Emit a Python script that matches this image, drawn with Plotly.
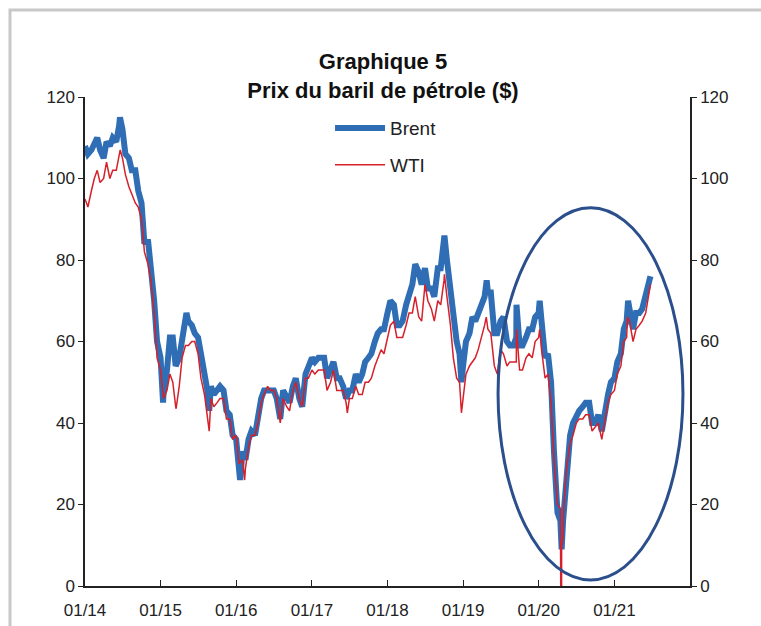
import pandas as pd
import plotly.graph_objects as go

# Semi-monthly observations (1st and 15th of each month), Jan 2014 - Jun 2021
dates = pd.date_range("2014-01-01", "2021-06-15", freq="SMS")

brent = [
    108, 106, 107, 109, 110, 107, 105, 109, 108, 110, 109, 113, 112, 106, 105, 102, 102, 97, 94, 84, 85, 79, 70, 60,
    56, 47, 53, 61, 61, 54, 56, 61, 66, 65, 64, 62, 61, 57, 52, 48, 49, 47, 48, 49, 48, 43, 42, 37,
    36, 29, 33, 31, 36, 38, 37, 42, 46, 48, 48, 48, 48, 46, 41, 48, 46, 45, 49, 51, 46, 44, 52, 54,
    56, 55, 56, 56, 56, 51, 53, 55, 51, 51, 49, 46, 48, 48, 52, 50, 52, 55, 56, 57, 60, 62, 63, 63,
    67, 70, 69, 64, 64, 65, 69, 72, 74, 79, 77, 74, 78, 73, 73, 71, 78, 78, 84, 80, 73, 66, 60, 57,
    54, 60, 62, 66, 65, 67, 70, 71, 72, 72, 62, 62, 65, 66, 60, 59, 59, 61, 59, 59, 61, 63, 63, 66,
    67, 65, 56, 57, 50, 33, 18, 16, 18, 28, 37, 40, 42, 43, 44, 45, 45, 40, 40, 42, 38, 43, 47, 50,
    51, 55, 57, 63, 65, 68, 63, 67, 67, 68, 71, 74,
]
wti = [
    95, 93, 97, 100, 102, 99, 100, 104, 100, 102, 102, 106, 105, 101, 98, 96, 94, 93, 90, 82, 79, 75, 67, 56,
    53, 46, 48, 52, 50, 44, 49, 56, 59, 59, 60, 60, 57, 51, 47, 42, 46, 44, 45, 46, 46, 41, 41, 36,
    37, 30, 31, 29, 34, 37, 37, 40, 45, 47, 49, 48, 48, 46, 40, 46, 44, 43, 48, 50, 46, 44, 51, 51,
    53, 52, 53, 53, 53, 48, 50, 53, 48, 48, 48, 45, 46, 46, 49, 47, 47, 50, 50, 51, 54, 56, 58, 57,
    61, 64, 65, 61, 61, 61, 64, 67, 67, 71, 66, 65, 74, 70, 68, 65, 70, 69, 75, 71, 64, 56, 51, 50,
    46, 52, 54, 55, 56, 58, 61, 64, 63, 62, 54, 52, 58, 57, 54, 55, 55, 55, 53, 53, 56, 57, 56, 60,
    61, 58, 51, 52, 45, 31, 20, 19, 19, 29, 35, 37, 40, 41, 41, 42, 42, 38, 39, 40, 36, 40, 45, 47,
    48, 52, 54, 60, 61, 65, 60, 63, 64, 65, 67, 72,
]

# Daily highs / lows between the semi-monthly points
brent_extra_dates = ["2014-06-19", "2015-01-13", "2015-05-06", "2015-08-24", "2016-01-20",
                     "2018-10-03", "2018-12-24", "2019-04-25", "2019-09-16", "2020-01-06",
                     "2020-04-21", "2020-04-28", "2021-03-08", "2021-06-24"]
brent_extra = [115, 45, 67, 43, 26, 86, 50, 75, 69, 70, 9, 16, 70, 76]

wti_extra_dates = ["2014-06-20", "2015-03-17", "2015-08-24", "2016-02-11", "2017-06-21",
                   "2018-10-03", "2018-12-24", "2019-04-23", "2019-09-16", "2020-01-06",
                   "2020-04-20", "2020-04-21", "2020-04-28", "2021-03-05", "2021-06-24"]
wti_extra = [107, 43.5, 38, 26, 42.5, 76.5, 42.5, 66, 63, 63, -37.6, 10, 12.3, 66, 74]

tick_dates = ["2014-01-01", "2015-01-01", "2016-01-01", "2017-01-01",
              "2018-01-01", "2019-01-01", "2020-01-01", "2021-01-01"]
tick_labels = ["01/14", "01/15", "01/16", "01/17", "01/18", "01/19", "01/20", "01/21"]
y_ticks = [0, 20, 40, 60, 80, 100, 120]


def series(base, extra_dates, extra_vals):
    s = pd.concat([pd.Series(base, index=dates),
                   pd.Series(extra_vals, index=pd.to_datetime(extra_dates))])
    return s.sort_index()


s_brent = series(brent, brent_extra_dates, brent_extra)
s_wti = series(wti, wti_extra_dates, wti_extra)

fig = go.Figure()
fig.add_trace(go.Scatter(x=s_brent.index, y=s_brent.values, mode="lines", name="Brent",
                         legendgroup="brent",
                         line=dict(color="#2F6DB5", width=6)))
fig.add_trace(go.Scatter(x=s_wti.index, y=s_wti.values, mode="lines", name="WTI",
                         legendgroup="wti",
                         line=dict(color="#D6202A", width=1.5)))
# carrier trace so the right-hand axis is drawn
fig.add_trace(go.Scatter(x=[tick_dates[0]], y=[0], yaxis="y2", mode="lines",
                         showlegend=False, hoverinfo="skip", line=dict(width=0)))

font_main = "Liberation Sans, Arial, sans-serif"

fig.update_layout(
    width=761, height=626,
    margin=dict(l=85, r=71, t=97, b=40),
    paper_bgcolor="white", plot_bgcolor="white",
    font=dict(family=font_main, size=17, color="#222222"),
    title=dict(text="<b>Graphique 5<br>Prix du baril de pétrole ($)</b>",
               x=383 / 761, xanchor="center", y=1 - 69 / 626, yanchor="top",
               font=dict(family=font_main, size=22, color="#111111")),
    showlegend=True,
    legend=dict(x=0.405, y=0.975, xanchor="left", yanchor="top",
                bgcolor="rgba(0,0,0,0)", font=dict(size=19, color="#222222"),
                itemwidth=50, tracegroupgap=9),
    xaxis=dict(type="date", range=["2014-01-01", "2022-01-01"],
               tickvals=tick_dates, ticktext=tick_labels,
               showgrid=False, zeroline=False, automargin=False,
               showline=True, linecolor="#222222", linewidth=1.5,
               ticks="inside", ticklen=6, tickcolor="#222222",
               ticklabelstandoff=8),
    yaxis=dict(range=[0, 120], tickvals=y_ticks, automargin=False,
               showgrid=False, zeroline=False,
               showline=True, linecolor="#222222", linewidth=1.5,
               ticks="outside", ticklen=5, tickcolor="#222222"),
    yaxis2=dict(range=[0, 120], tickvals=y_ticks, overlaying="y", side="right",
                showgrid=False, zeroline=False, automargin=False,
                showline=True, linecolor="#222222", linewidth=1.5,
                ticks="outside", ticklen=5, tickcolor="#222222"),
)

# ellipse around the 2020 crash and rebound
fig.add_shape(type="circle", xref="x", yref="y",
              x0="2019-06-19", x1="2021-11-28", y0=1.5, y1=92.8,
              line=dict(color="#2B4F8C", width=3))

# light grey frame around the whole graphic
fig.add_shape(type="rect", xref="paper", yref="paper",
              x0=(10 - 85) / 605, x1=(775 - 85) / 605,
              y0=(586 - 640) / 489, y1=(586 - 10) / 489,
              line=dict(color="#C8C8C8", width=3), layer="below")

fig.write_html("out.html")
